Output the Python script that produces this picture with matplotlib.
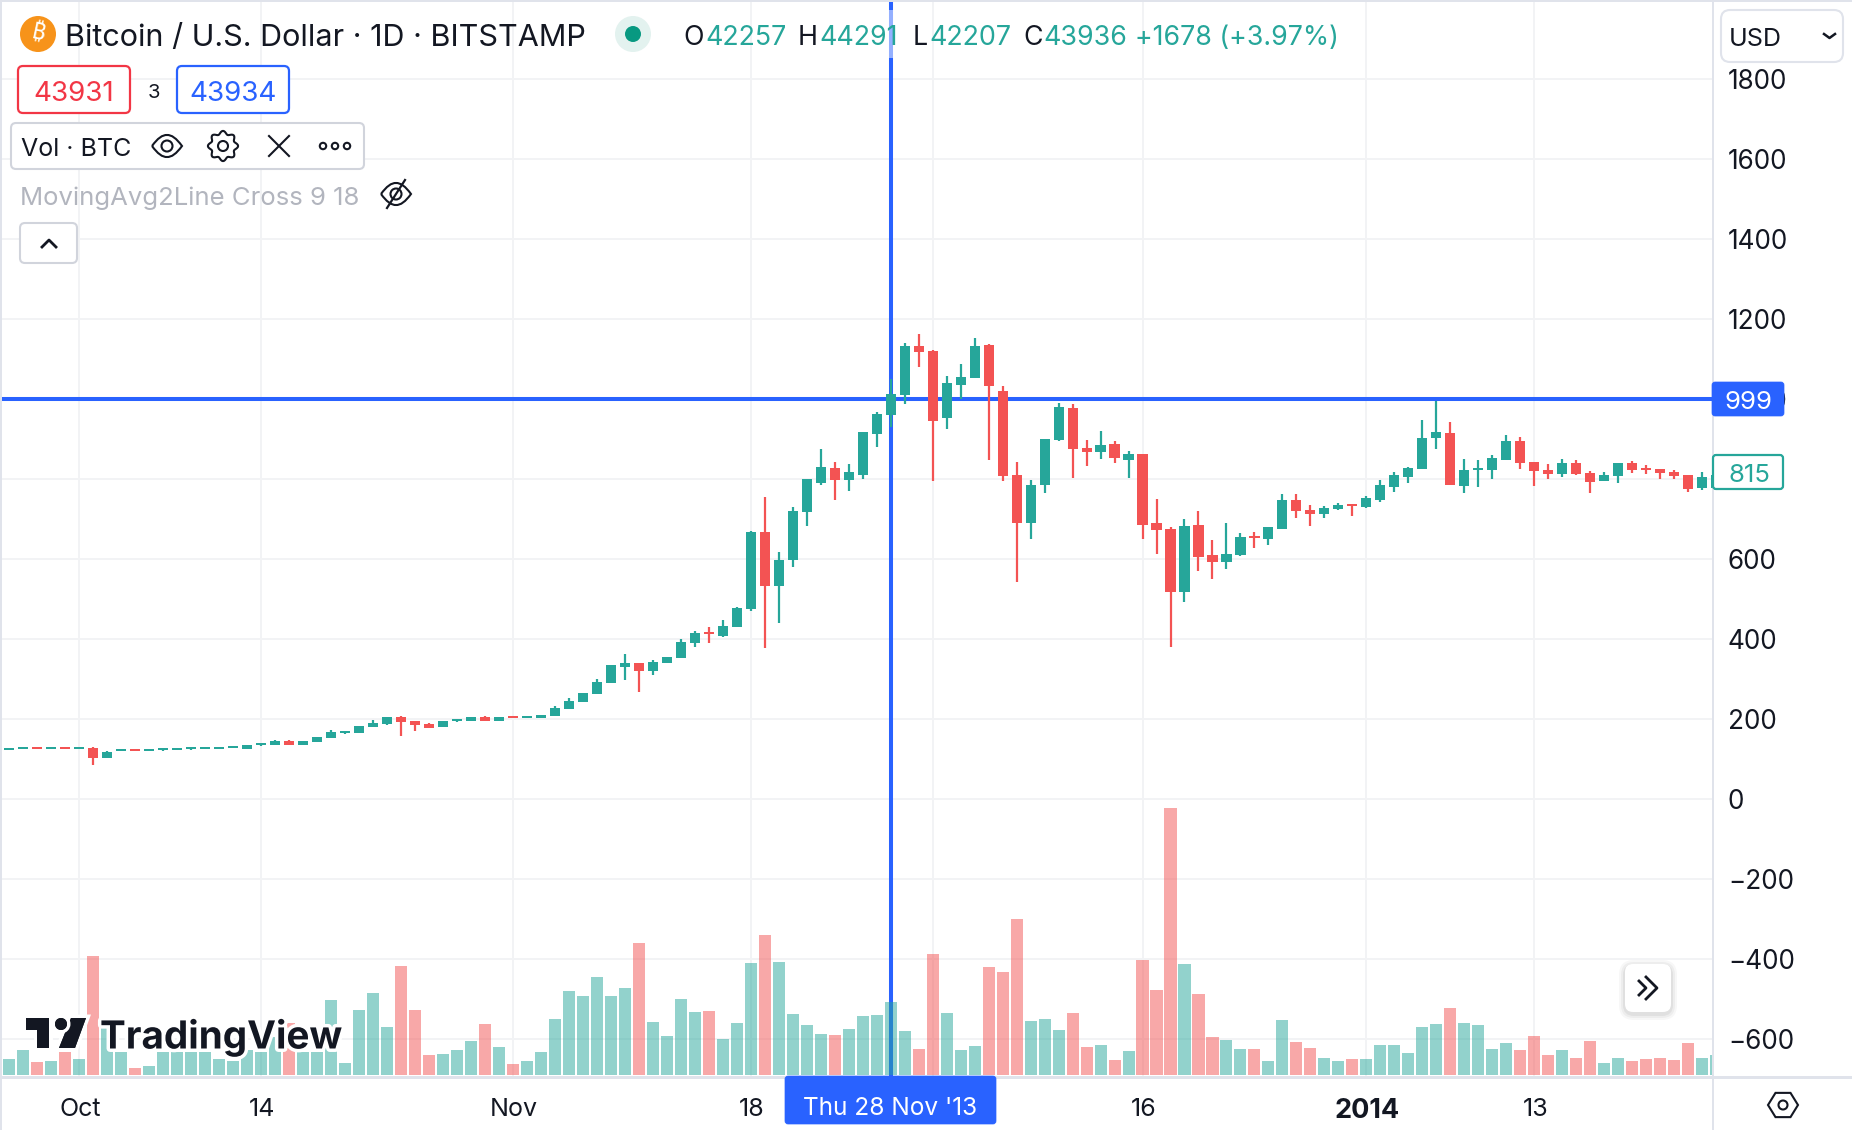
"""TradingView style BTC/USD daily candles with volume, redrawn in matplotlib."""
import numpy as np
import matplotlib
matplotlib.use("Agg")
import matplotlib.pyplot as plt
import matplotlib.patheffects as pe
from matplotlib.patches import Circle, FancyBboxPatch, Polygon, Rectangle, PathPatch
from matplotlib.path import Path
from matplotlib.transforms import ScaledTranslation

plt.rcParams["font.family"] = ["Inter", "DejaVu Sans"]

GREEN = "#26a69a"
RED = "#f35353"
BLUE = "#2962ff"
INK = "#131722"
GRID = "#f2f3f5"
LINE = "#e0e3eb"

W, H = 1852, 1130

opens = [122, 124, 129, 124, 129, 124, 127, 102, 119, 124, 119, 122, 122, 124, 124, 124, 127, 124, 134, 134,
         144, 134, 142, 152, 164, 164, 179, 187, 204, 194, 187, 179, 194, 194, 204, 194, 207, 202, 202, 207,
         224, 242, 262, 289, 329, 339, 319, 339, 352, 389, 417, 407, 429, 474, 667, 532, 597, 717, 789, 827,
         797, 809, 912, 959, 1009, 1132, 1119, 952, 1034, 1052, 1134, 1019, 809, 689, 784, 897, 977, 877, 867, 887,
         847, 862, 689, 674, 517, 684, 609, 592, 609, 657, 649, 674, 747, 722, 712, 724, 737, 729, 747, 779,
         804, 824, 902, 914, 782, 822, 822, 847, 894, 842, 822, 812, 839, 814, 794, 807, 839, 827, 824, 817,
         809, 777, 777]
closes = [127, 129, 124, 129, 124, 129, 102, 117, 124, 119, 124, 127, 127, 129, 129, 129, 132, 134, 139, 144,
          134, 144, 154, 167, 169, 182, 189, 204, 192, 184, 177, 194, 199, 204, 194, 204, 202, 207, 209, 227,
          244, 264, 292, 334, 339, 319, 342, 354, 392, 414, 412, 432, 477, 667, 532, 597, 719, 799, 829, 797,
          817, 917, 962, 1012, 1132, 1117, 944, 1039, 1054, 1132, 1032, 807, 689, 784, 899, 979, 874, 867, 884, 852,
          862, 684, 672, 517, 682, 604, 592, 612, 654, 652, 679, 747, 719, 712, 727, 734, 732, 752, 784, 809,
          827, 902, 917, 784, 822, 827, 852, 894, 839, 819, 812, 839, 812, 792, 809, 839, 822, 822, 814, 807,
          774, 804, 809]
highs = [127, 129, 129, 129, 129, 129, 129, 119, 124, 124, 124, 127, 127, 129, 129, 129, 132, 134, 139, 147,
         147, 144, 154, 172, 169, 182, 197, 204, 207, 194, 189, 194, 199, 204, 207, 204, 207, 207, 209, 232,
         252, 264, 299, 334, 362, 339, 347, 354, 399, 419, 429, 447, 479, 669, 754, 617, 729, 799, 874, 842,
         837, 917, 967, 1049, 1139, 1162, 1122, 1057, 1087, 1152, 1137, 1032, 842, 797, 899, 989, 987, 897, 919, 894,
         869, 862, 749, 679, 699, 719, 647, 689, 664, 667, 679, 762, 762, 734, 732, 739, 737, 757, 797, 817,
         829, 947, 994, 942, 849, 847, 859, 909, 904, 842, 837, 849, 847, 819, 817, 839, 844, 834, 824, 822,
         809, 817, 820]
lows = [122, 124, 124, 124, 124, 124, 84, 102, 119, 119, 119, 119, 122, 122, 124, 124, 127, 124, 132, 134,
        134, 134, 142, 152, 162, 164, 179, 184, 157, 169, 177, 179, 192, 194, 194, 194, 202, 202, 202, 207,
        224, 242, 262, 289, 297, 267, 309, 339, 352, 379, 389, 404, 429, 469, 377, 439, 579, 682, 784, 747,
        769, 799, 879, 929, 987, 1079, 794, 924, 999, 1052, 847, 794, 542, 649, 764, 894, 802, 832, 849, 839,
        802, 649, 612, 379, 492, 569, 549, 574, 607, 627, 634, 674, 702, 682, 702, 722, 707, 727, 742, 767,
        789, 824, 874, 784, 764, 779, 799, 847, 824, 782, 799, 804, 809, 764, 794, 789, 814, 812, 799, 799,
        767, 772, 777]
volumes = [16, 25, 13, 14, 23, 16, 119, 47, 23, 7, 9, 23, 23, 23, 23, 16, 14, 25, 23, 38,
           52, 23, 23, 75, 12, 65, 82, 48, 109, 65, 20, 21, 25, 34, 51, 28, 11, 14, 23, 56,
           84, 79, 98, 79, 87, 132, 53, 39, 76, 63, 64, 36, 52, 112, 140, 113, 61, 50, 41, 40,
           46, 59, 60, 73, 44, 26, 121, 62, 25, 29, 108, 103, 156, 54, 56, 45, 62, 28, 30, 15,
           24, 115, 85, 267, 111, 81, 38, 35, 26, 26, 14, 55, 33, 27, 17, 14, 16, 16, 30, 30,
           22, 48, 51, 67, 52, 50, 26, 32, 25, 39, 20, 25, 17, 34, 12, 17, 14, 16, 17, 15,
           32, 17, 20]

price_ticks = [1800, 1600, 1400, 1200, 1000, 800, 600, 400, 200, 0, -200, -400, -600]
date_ticks = [5, 18, 36, 53, 66, 81, 97, 109]
date_labels = ["Oct", "14", "Nov", "18", "", "16", "2014", "13"]
cross_idx = 63
cross_price = 999
last_price = 815

# pixel layout of the reference
PLOT_L, PLOT_R, PLOT_T, PLOT_B = 2, 1712, 2, 1077
X0, STEP = 9.0, 13.994
Y0, PX_PER_USD = 799, 0.4
VOL_BASE = 1075

x = np.arange(len(opens))
up = np.array(closes) >= np.array(opens)
colors = [GREEN if u else RED for u in up]

fig = plt.figure(figsize=(W / 100, H / 100), dpi=100, facecolor="white")
pos = [PLOT_L / W, 1 - PLOT_B / H, (PLOT_R - PLOT_L) / W, (PLOT_B - PLOT_T) / H]
xlim = ((PLOT_L - X0) / STEP, (PLOT_R - X0) / STEP)

ax = fig.add_axes(pos, zorder=1)
ax.set_xlim(xlim)
ax.set_ylim((Y0 - PLOT_B) / PX_PER_USD, (Y0 - PLOT_T) / PX_PER_USD)
for s in ax.spines.values():
    s.set_visible(False)
ax.yaxis.tick_right()
ax.set_yticks(price_ticks)
# the 800 label sits behind the last price tag in the reference
ax.set_yticklabels(["" if p == 800 else str(p).replace("-", "\u2212") for p in price_ticks])
ax.set_xticks(date_ticks)
ax.set_xticklabels(date_labels)
ax.tick_params(axis="y", length=0, pad=11.5, labelsize=18.8, labelcolor=INK)
ax.tick_params(axis="x", length=0, pad=15, labelsize=18, labelcolor=INK)
nudge = ScaledTranslation(1.2 / 100, 0, fig.dpi_scale_trans)
for lbl in ax.get_xticklabels():
    lbl.set_transform(lbl.get_transform() + nudge)
    if lbl.get_text() == "2014":
        lbl.set_fontweight("bold")
        lbl.set_fontsize(19.5)
ax.grid(True, color=GRID, lw=1.44, zorder=0)
ax.set_axisbelow(True)

# crosshair sits under the candles
ax.axvline(cross_idx, color=BLUE, lw=2.9, zorder=1)
ax.axhline(cross_price, color=BLUE, lw=2.9, zorder=1)

# candles
ax.vlines(x, lows, highs, colors=colors, lw=1.6, zorder=3, capstyle="butt")
ax.bar(x, np.abs(np.array(closes) - np.array(opens)), bottom=np.minimum(opens, closes),
       width=0.72, color=colors, lw=0, zorder=4)

# volume on its own hidden scale
ax_vol = fig.add_axes(pos, zorder=2, sharex=ax)
ax_vol.patch.set_visible(False)
ax_vol.axis("off")
ax_vol.set_ylim(VOL_BASE - PLOT_B, VOL_BASE - PLOT_T)
ax_vol.bar(x, volumes, width=0.86, color=colors, alpha=0.5, lw=0)
ax_vol.set_xlim(xlim)

# everything around the chart is drawn in image pixels
ui = fig.add_axes([0, 0, 1, 1], zorder=5)
ui.set_xlim(0, W)
ui.set_ylim(H, 0)
ui.axis("off")
ui.patch.set_visible(False)


def box(x0, y0, x1, y1, fc="white", ec=LINE, lw=1.5, r=5, **kw):
    p = FancyBboxPatch((x0 + r, y0 + r), x1 - x0 - 2 * r, y1 - y0 - 2 * r,
                       boxstyle=f"round,pad={r},rounding_size={r}", fc=fc, ec=ec, lw=lw, **kw)
    ui.add_patch(p)
    return p


def label(px, py, s, size=17, color=INK, ha="left", **kw):
    return ui.text(px, py, s, fontsize=size, color=color, ha=ha, va="center_baseline", **kw)


def eye(cx, cy, color=INK, slashed=False):
    w, h = 15, 11
    verts = [(cx - w, cy), (cx - w * 0.45, cy - h * 1.05), (cx, cy - h), (cx + w * 0.45, cy - h * 1.05), (cx + w, cy),
             (cx + w * 0.45, cy + h * 1.05), (cx, cy + h), (cx - w * 0.45, cy + h * 1.05), (cx - w, cy)]
    codes = [Path.MOVETO] + [Path.CURVE3] * 8
    ui.add_patch(PathPatch(Path(verts, codes), fc="none", ec=color, lw=1.5))
    ui.add_patch(Circle((cx, cy), 5.5, fc="none", ec=color, lw=1.5))
    if slashed:
        ui.plot([cx - 9, cx + 9], [cy + 14, cy - 14], color=color, lw=1.6)


# window edges and axis separators
ui.add_patch(Rectangle((0, 0), W, 2, fc=LINE, ec="none"))
ui.add_patch(Rectangle((0, 0), 2, H, fc=LINE, ec="none"))
ui.add_patch(Rectangle((PLOT_R, 0), 2, H, fc=LINE, ec="none"))
ui.add_patch(Rectangle((0, 1076), W, 2.5, fc=LINE, ec="none"))

# legend row, the crosshair fades behind it
ui.add_patch(Rectangle((885, 10), 12, 48, fc="white", ec="none", alpha=0.5))
ui.add_patch(Circle((38, 34), 18, fc="#f7931a", ec="none"))
ui.text(38, 34, "\u20bf", fontsize=17, color="white", ha="center", va="center",
        fontweight="bold", rotation=-12,
        family=["Noto Sans", "Roboto", "Open Sans", "Lato", "Liberation Sans", "Noto Sans CJK SC", "DejaVu Sans"])
label(65, 35, "Bitcoin / U.S. Dollar \u00b7 1D \u00b7 BITSTAMP", size=22)
ui.add_patch(Circle((633, 34), 18, fc="#e3f2ef", ec="none"))
ui.add_patch(Circle((633, 34), 8, fc="#089981", ec="none"))
for px, s, c in [(683, "O", INK), (705, "42257", GREEN), (798, "H", INK), (819, "44291", GREEN),
                 (913, "L", INK), (929, "42207", GREEN), (1023, "C", INK), (1043, "43936", GREEN),
                 (1135, "+1678 (+3.97%)", GREEN)]:
    label(px, 35, s, size=19.3, color=c)

# order buttons
box(18, 66, 130, 113, ec="#f23645", lw=1.6)
label(74, 91, "43931", size=20, color="#f23645", ha="center")
label(154, 91, "3", size=14.5, ha="center")
box(177, 66, 289, 113, ec=BLUE, lw=1.6)
label(233, 91, "43934", size=20, color=BLUE, ha="center")

# indicator rows
box(11, 123, 364, 169, ec="#d1d4dc", lw=1.5)
label(21, 147, "Vol \u00b7 BTC", size=18)
eye(167, 146)
t = np.linspace(0, 2 * np.pi, 97)
rad = 13.5 + 1.6 * np.cos(8 * t)
ui.add_patch(Polygon(np.c_[223 + rad * np.cos(t), 146 + rad * np.sin(t)], fc="none", ec=INK, lw=1.5))
ui.add_patch(Circle((223, 146), 5, fc="none", ec=INK, lw=1.5))
ui.plot([269, 289], [136, 156], color=INK, lw=1.5)
ui.plot([269, 289], [156, 136], color=INK, lw=1.5)
for cx in [323, 335, 347]:
    ui.add_patch(Circle((cx, 146), 3.2, fc="none", ec=INK, lw=1.5))
label(20, 196, "MovingAvg2Line Cross 9 18", size=18.5, color="#b2b5be")
eye(396, 194, slashed=True)
box(20, 223, 77, 263, ec="#d1d4dc", lw=1.5)
ui.plot([42, 49, 56], [247, 240, 247], color=INK, lw=2)

# currency selector
box(1721, 10, 1843, 62, ec=LINE, lw=1.5, r=9)
label(1729, 37, "USD", size=18)
ui.plot([1824, 1829.5, 1835], [34, 38, 34], color=INK, lw=1.8)

# price labels on the right scale
box(1712, 382, 1784, 416, fc=BLUE, ec=BLUE, lw=0.5, r=3)
label(1749, 400, str(cross_price), size=18.6, color="white", ha="center")
box(1713, 455, 1783, 489, fc="white", ec=GREEN, lw=1.6, r=3)
label(1749, 473, str(last_price), size=18.6, color=GREEN, ha="center")

# date label under the crosshair
box(785, 1076, 996, 1124, fc=BLUE, ec=BLUE, lw=0.5, r=3)
label(890.5, 1106, "Thu 28 Nov '13", size=17.6, color="white", ha="center")

# scroll button with a soft shadow
for grow, a in [(6, 0.03), (4, 0.04), (2, 0.05)]:
    box(1625 - grow, 966 - grow, 1671 + grow, 1012 + grow + 2, fc="#000000", ec="none", lw=0, r=9 + grow, alpha=a)
box(1625, 964, 1671, 1012, fc="white", ec="none", lw=0, r=8)
ui.plot([1639, 1646, 1639], [981, 988, 995], color=INK, lw=2)
ui.plot([1646, 1657, 1646], [977, 988, 999], color=INK, lw=2)

# settings hexagon
ang = np.deg2rad(np.arange(0, 360, 60))
ui.add_patch(Polygon(np.c_[1783 + 15 * np.cos(ang), 1105 + 14 * np.sin(ang)], fc="none", ec=INK, lw=1.5))
ui.add_patch(Circle((1783, 1105), 4.5, fc="none", ec=INK, lw=1.5))

# watermark
halo = [pe.withStroke(linewidth=5, foreground="white")]
logo_t = Polygon([(26, 1018), (49, 1018), (49, 1048), (37, 1048), (37, 1030), (26, 1030)], fc="#131722", ec="none")
logo_s = Polygon([(71, 1018), (86, 1018), (75, 1048), (59, 1048)], fc="#131722", ec="none")
logo_d = Circle((61, 1024), 6, fc="#131722", ec="none")
for p in (logo_t, logo_s, logo_d):
    p.set_path_effects([pe.withStroke(linewidth=5, foreground="white"), pe.Normal()])
    ui.add_patch(p)
label(100, 1034, "TradingView", size=27.8, color="#131722", fontweight="bold", path_effects=halo)

fig.savefig("out.png", dpi=100, facecolor="white")
plt.close(fig)
